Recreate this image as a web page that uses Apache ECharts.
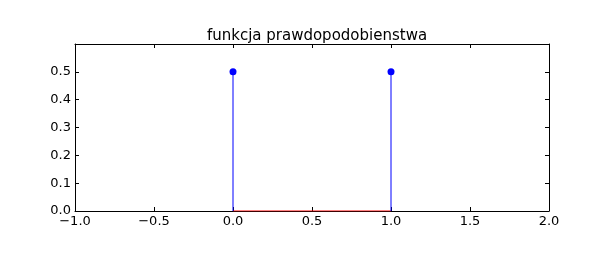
<!DOCTYPE html>
<html><head><meta charset="utf-8">
<script src="https://cdn.jsdelivr.net/npm/echarts@6/dist/echarts.min.js"></script>
<style>html,body{margin:0;padding:0;background:#fff}#c{width:600px;height:272px}</style>
</head><body><div id="c"></div>
<script>
var xValues = [0, 1];
var probabilities = [0.5, 0.5];
var xTicks = [-1.0, -0.5, 0.0, 0.5, 1.0, 1.5, 2.0];
var yTicks = [0.0, 0.1, 0.2, 0.3, 0.4, 0.5];
var titleText = 'funkcja prawdopodobienstwa';

var FONT = 'DejaVu Sans';
function fmt(v){ return v.toFixed(1).replace('-', '\u2212'); }
var points = xValues.map(function(x,i){ return [x, probabilities[i]]; });

var chart = echarts.init(document.getElementById('c'), null, {renderer:'canvas'});
var baseAxis = {
  type:'value', splitLine:{show:false},
  axisLine:{show:true, onZero:false, lineStyle:{color:'#000', width:1}},
  axisTick:{show:true, inside:true, length:4, lineStyle:{color:'#000'}}
};
var stemSeries = points.map(function(p){
  return {type:'line', data:[[p[0],0],[p[0],p[1]]], showSymbol:false, symbol:'none',
    lineStyle:{color:'#0000ff', width:1}, z:4, silent:true};
});
chart.setOption({
  backgroundColor:'#fff',
  animation:false,
  title:{text:titleText, left:312, textAlign:'center', top:24,
    textStyle:{fontFamily:FONT, fontSize:15, fontWeight:'normal', color:'#000'}},
  grid:{left:75, right:51, top:44, bottom:61, containLabel:false},
  xAxis:[
    Object.assign({}, baseAxis, {min:xTicks[0], max:xTicks[xTicks.length-1], interval:0.5, position:'bottom',
      axisLabel:{fontFamily:FONT, fontSize:13, color:'#000', margin:4, formatter:function(v){return fmt(v);}}}),
    Object.assign({}, baseAxis, {min:xTicks[0], max:xTicks[xTicks.length-1], interval:0.5, position:'top',
      axisLabel:{show:false}})
  ],
  yAxis:[
    Object.assign({}, baseAxis, {min:0, max:0.6, interval:0.1, position:'left',
      axisLabel:{fontFamily:FONT, fontSize:13, color:'#000', margin:4,
        formatter:function(v){ var ok = yTicks.some(function(t){return Math.abs(t-v)<1e-9;}); return ok ? fmt(v) : ''; }}}),
    Object.assign({}, baseAxis, {min:0, max:0.6, interval:0.1, position:'right',
      axisLabel:{show:false}})
  ],
  series:[
    {type:'line', data:[[xValues[0],0],[xValues[xValues.length-1],0]], showSymbol:false, symbol:'none',
      lineStyle:{color:'#ff0000', width:1}, z:3, silent:true}
  ].concat(stemSeries).concat([
    {type:'scatter', data:points, symbol:'circle', symbolSize:7, z:5,
      itemStyle:{color:'#0000ff', opacity:1}}
  ])
});
</script></body></html>
